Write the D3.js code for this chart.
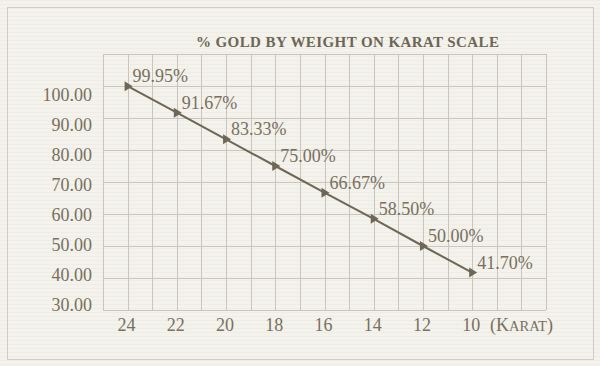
<!DOCTYPE html>
<html>
<head>
<meta charset="utf-8">
<script src="https://cdn.jsdelivr.net/npm/d3@7"></script>
<style>
  html, body { margin: 0; padding: 0; background: #f4f2ec; }
  svg { display: block; }
</style>
</head>
<body>
<svg id="chart" width="600" height="366"></svg>
<script>
const karats = [24, 22, 20, 18, 16, 14, 12, 10];
const goldPercent = [99.95, 91.67, 83.33, 75.00, 66.67, 58.50, 50.00, 41.70];
const pointLabels = ["99.95%", "91.67%", "83.33%", "75.00%", "66.67%", "58.50%", "50.00%", "41.70%"];
const yTickValues = [30, 40, 50, 60, 70, 80, 90, 100];
const yTickLabels = ["30.00", "40.00", "50.00", "60.00", "70.00", "80.00", "90.00", "100.00"];
const xTickLabels = ["24", "22", "20", "18", "16", "14", "12", "10"];
const titleText = "% GOLD BY WEIGHT ON KARAT SCALE";

const svg = d3.select("#chart");
const textColor = "#77705f";
const lineColor = "#6e6656";
const gridColor = "#c9c5bd";
const font = "'Liberation Serif', 'Times New Roman', serif";

// background + frame
svg.append("rect").attr("width", 600).attr("height", 366).attr("fill", "#f4f2ec");
const defs = svg.append("defs");
const pat = defs.append("pattern").attr("id", "paper").attr("width", 600).attr("height", 4)
  .attr("patternUnits", "userSpaceOnUse");
pat.append("rect").attr("width", 600).attr("height", 1).attr("fill", "#ebe8e0").attr("opacity", 0.6);
svg.append("rect").attr("width", 600).attr("height", 366).attr("fill", "url(#paper)");
svg.append("rect").attr("x", 7.5).attr("y", 7.5).attr("width", 586).attr("height", 352)
  .attr("fill", "none").attr("stroke", "#cfccc4").attr("stroke-width", 1);

const plotLeft = 103, plotRight = 546, plotTop = 54, plotBottom = 310;
const x = d3.scaleLinear().domain([25, 7]).range([plotLeft, plotRight]);
const y = d3.scaleLinear().domain([30, 110]).range([plotBottom, plotTop]);
// tick label placement scale (labels sit on a slightly tighter spacing than gridlines)
const yLab = d3.scaleLinear().domain([30, 100]).range([305, 95]);

const g = svg.append("g");
g.selectAll(".vg").data(d3.range(25, 6, -1)).enter().append("line")
  .attr("x1", d => Math.round(x(d)) + 0.5).attr("x2", d => Math.round(x(d)) + 0.5)
  .attr("y1", plotTop).attr("y2", plotBottom)
  .attr("stroke", gridColor).attr("stroke-width", 1);
g.selectAll(".hg").data(d3.range(30, 111, 10)).enter().append("line")
  .attr("x1", plotLeft).attr("x2", plotRight)
  .attr("y1", d => Math.round(y(d)) + 0.5).attr("y2", d => Math.round(y(d)) + 0.5)
  .attr("stroke", gridColor).attr("stroke-width", 1);

// title
svg.append("text").attr("x", 196).attr("y", 47)
  .attr("font-family", font).attr("font-size", 15)
  .attr("font-weight", "bold")
  .attr("textLength", 303).attr("lengthAdjust", "spacing")
  .attr("fill", "#6c6656").text(titleText);

// y tick labels
svg.selectAll(".yl").data(yTickValues).enter().append("text")
  .attr("x", 92).attr("y", d => yLab(d)).attr("dy", "0.35em")
  .attr("text-anchor", "end").attr("font-family", font).attr("font-size", 18)
  .attr("fill", textColor).text((d, i) => yTickLabels[i]);

// x tick labels
svg.selectAll(".xl").data(karats).enter().append("text")
  .attr("x", d => x(d) - 1).attr("y", 331)
  .attr("text-anchor", "middle").attr("font-family", font).attr("font-size", 18)
  .attr("fill", textColor).text((d, i) => xTickLabels[i]);

// (KARAT) unit label in small caps
const unit = svg.append("text").attr("x", 490).attr("y", 331)
  .attr("font-family", font).attr("font-size", 18).attr("fill", textColor);
unit.append("tspan").text("(K");
unit.append("tspan").attr("font-size", 14.5).text("ARAT");
unit.append("tspan").text(")");

// line
const pts = karats.map((k, i) => [k, goldPercent[i]]);
svg.append("path").datum(pts)
  .attr("d", d3.line().x(d => x(d[0])).y(d => y(d[1])))
  .attr("fill", "none").attr("stroke", lineColor).attr("stroke-width", 2);

// markers
svg.selectAll(".mk").data(pts).enter().append("path")
  .attr("transform", d => `translate(${x(d[0])},${y(d[1])})`)
  .attr("d", "M-3,-5 L5,0 L-3,5 Z")
  .attr("fill", lineColor);

// point labels
svg.selectAll(".pl").data(pts).enter().append("text")
  .attr("x", d => x(d[0]) + 5).attr("y", d => y(d[1]) - 4)
  .attr("font-family", font).attr("font-size", 18)
  .attr("fill", textColor).text((d, i) => pointLabels[i]);
</script>
</body>
</html>
